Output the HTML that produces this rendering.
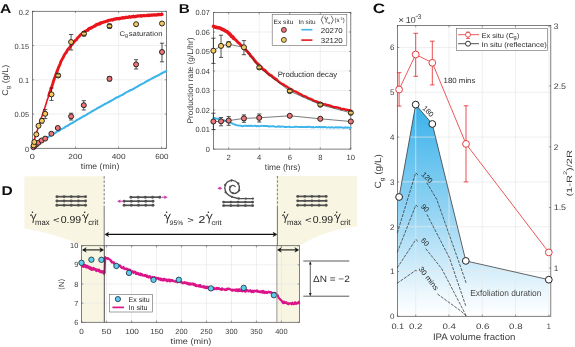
<!DOCTYPE html>
<html><head><meta charset="utf-8"><style>
html,body{margin:0;padding:0;background:#fff;width:575px;height:347px;overflow:hidden;}
svg{display:block;font-family:"Liberation Sans", sans-serif;will-change:transform;text-rendering:geometricPrecision;}
</style></head><body>
<svg width="575" height="347" viewBox="0 0 575 347">
<rect width="575" height="347" fill="#fff"/>
<line x1="75.51" y1="11.30" x2="75.51" y2="148.30" stroke="#e8e8e8" stroke-width="0.7" />
<line x1="118.57" y1="11.30" x2="118.57" y2="148.30" stroke="#e8e8e8" stroke-width="0.7" />
<line x1="161.63" y1="11.30" x2="161.63" y2="148.30" stroke="#e8e8e8" stroke-width="0.7" />
<line x1="32.45" y1="114.05" x2="166.40" y2="114.05" stroke="#e8e8e8" stroke-width="0.7" />
<line x1="32.45" y1="79.80" x2="166.40" y2="79.80" stroke="#e8e8e8" stroke-width="0.7" />
<line x1="32.45" y1="45.55" x2="166.40" y2="45.55" stroke="#e8e8e8" stroke-width="0.7" />
<rect x="32.45" y="11.30" width="133.95" height="137.00" fill="none" stroke="#555555" stroke-width="0.75" />
<line x1="32.45" y1="148.30" x2="32.45" y2="146.60" stroke="#555555" stroke-width="0.6" />
<line x1="32.45" y1="11.30" x2="32.45" y2="13.00" stroke="#555555" stroke-width="0.6" />
<line x1="75.51" y1="148.30" x2="75.51" y2="146.60" stroke="#555555" stroke-width="0.6" />
<line x1="75.51" y1="11.30" x2="75.51" y2="13.00" stroke="#555555" stroke-width="0.6" />
<line x1="118.57" y1="148.30" x2="118.57" y2="146.60" stroke="#555555" stroke-width="0.6" />
<line x1="118.57" y1="11.30" x2="118.57" y2="13.00" stroke="#555555" stroke-width="0.6" />
<line x1="161.63" y1="148.30" x2="161.63" y2="146.60" stroke="#555555" stroke-width="0.6" />
<line x1="161.63" y1="11.30" x2="161.63" y2="13.00" stroke="#555555" stroke-width="0.6" />
<line x1="32.45" y1="148.30" x2="34.15" y2="148.30" stroke="#555555" stroke-width="0.6" />
<line x1="166.40" y1="148.30" x2="164.70" y2="148.30" stroke="#555555" stroke-width="0.6" />
<line x1="32.45" y1="114.05" x2="34.15" y2="114.05" stroke="#555555" stroke-width="0.6" />
<line x1="166.40" y1="114.05" x2="164.70" y2="114.05" stroke="#555555" stroke-width="0.6" />
<line x1="32.45" y1="79.80" x2="34.15" y2="79.80" stroke="#555555" stroke-width="0.6" />
<line x1="166.40" y1="79.80" x2="164.70" y2="79.80" stroke="#555555" stroke-width="0.6" />
<line x1="32.45" y1="45.55" x2="34.15" y2="45.55" stroke="#555555" stroke-width="0.6" />
<line x1="166.40" y1="45.55" x2="164.70" y2="45.55" stroke="#555555" stroke-width="0.6" />
<line x1="32.45" y1="11.30" x2="34.15" y2="11.30" stroke="#555555" stroke-width="0.6" />
<line x1="166.40" y1="11.30" x2="164.70" y2="11.30" stroke="#555555" stroke-width="0.6" />
<polyline points="32.50,148.09 34.00,147.30 35.51,145.98 37.01,144.98 38.51,143.97 40.02,142.61 41.52,141.49 43.02,140.18 44.53,139.19 46.03,138.21 47.53,137.29 49.04,136.49 50.54,135.42 52.04,134.41 53.55,133.66 55.05,133.12 56.55,131.91 58.06,131.16 59.56,130.52 61.06,129.20 62.57,128.61 64.07,127.91 65.57,126.67 67.08,125.96 68.58,125.26 70.08,124.00 71.59,123.32 73.09,122.56 74.59,121.64 76.10,120.67 77.60,119.66 79.10,118.93 80.61,117.99 82.11,117.17 83.61,116.24 85.12,115.60 86.62,114.69 88.12,113.59 89.63,112.84 91.13,111.82 92.63,111.03 94.14,110.11 95.64,109.38 97.14,108.36 98.65,107.53 100.15,106.81 101.66,105.84 103.16,105.27 104.66,104.09 106.17,103.56 107.67,102.58 109.17,101.77 110.68,101.06 112.18,100.18 113.68,99.31 115.19,98.29 116.69,97.52 118.19,97.01 119.70,96.11 121.20,95.38 122.70,94.69 124.21,93.74 125.71,92.61 127.21,91.92 128.72,91.24 130.22,90.25 131.72,89.80 133.23,88.97 134.73,88.11 136.23,87.10 137.74,86.47 139.24,85.30 140.74,84.58 142.25,83.84 143.75,83.16 145.25,82.22 146.76,81.23 148.26,80.51 149.76,79.69 151.27,78.86 152.77,77.98 154.27,77.28 155.78,76.49 157.28,75.83 158.78,75.03 160.29,74.07 161.79,73.23 163.29,72.57 164.80,71.81 166.30,70.89" fill="none" stroke="#3cb4ea" stroke-width="2.1" stroke-linejoin="round" stroke-linecap="round" />
<polyline points="32.50,147.71 33.31,144.13 34.13,140.19 34.94,137.85 35.76,134.67 36.57,132.21 37.39,129.93 38.20,127.45 39.02,124.66 39.83,122.63 40.64,119.78 41.46,117.49 42.27,115.33 43.09,112.60 43.90,110.28 44.72,107.93 45.53,105.57 46.35,103.10 47.16,100.15 47.97,98.01 48.79,95.61 49.60,92.86 50.42,90.70 51.23,88.22 52.05,85.86" fill="none" stroke="#e8161c" stroke-width="1.6" stroke-linejoin="round" stroke-linecap="round" />
<polyline points="48.79,95.61 49.60,92.86 50.42,90.70 51.23,88.22 52.05,85.86 52.86,83.46 53.68,80.46 54.49,78.19 55.31,76.26 56.12,73.69 56.93,71.57 57.75,69.66 58.56,67.27 59.38,65.65 60.19,63.73 61.01,61.28 61.82,59.86 62.64,58.41 63.45,57.02 64.26,55.10 65.08,53.66 65.89,52.85 66.71,51.62 67.52,49.93 68.34,48.95 69.15,48.04 69.97,47.06 70.78,45.54 71.59,44.90 72.41,44.06 73.22,42.98 74.04,41.84 74.85,40.89 75.67,40.20 76.48,39.70 77.30,38.27 78.11,37.35 78.92,36.72 79.74,35.67 80.55,34.92 81.37,34.08 82.18,33.74 83.00,33.19 83.81,32.37 84.63,31.55 85.44,31.11 86.25,30.74 87.07,30.45 87.88,29.98 88.70,28.96" fill="none" stroke="#e8161c" stroke-width="2.9" stroke-linejoin="round" stroke-linecap="round" />
<polyline points="87.88,29.98 88.70,28.96 89.51,28.31 90.33,28.41 91.14,28.02 91.96,27.24 92.77,27.02 93.58,26.66 94.40,26.07 95.21,25.85 96.03,24.87 96.84,24.67 97.66,24.32 98.47,23.87 99.29,24.09 100.10,23.16 100.92,23.29 101.73,22.57 102.54,22.48 103.36,22.23 104.17,21.79 104.99,21.75 105.80,21.50 106.62,21.10 107.43,21.15 108.25,20.52 109.06,20.32 109.87,20.23 110.69,20.05 111.50,19.73 112.32,20.05 113.13,19.81 113.95,19.14 114.76,19.16 115.58,18.90 116.39,18.90 117.20,18.63 118.02,18.64 118.83,18.80 119.65,18.28 120.46,18.33 121.28,18.17 122.09,18.15 122.91,17.54 123.72,17.89 124.53,17.91 125.35,17.56 126.16,17.22 126.98,17.38 127.79,17.31 128.61,17.17 129.42,16.72 130.24,17.21 131.05,17.11 131.86,16.65 132.68,16.69 133.49,16.23 134.31,16.81 135.12,16.62 135.94,16.42 136.75,16.44 137.57,15.97 138.38,15.99 139.19,15.88 140.01,16.06 140.82,15.64 141.64,16.14 142.45,15.77 143.27,15.70 144.08,15.39 144.90,15.74 145.71,15.77 146.53,15.57 147.34,15.24 148.15,15.56 148.97,15.05 149.78,15.46 150.60,15.23 151.41,14.97 152.23,15.07 153.04,15.09 153.86,14.77 154.67,15.13 155.48,14.77 156.30,15.05 157.11,14.95 157.93,14.38 158.74,14.71 159.56,14.42 160.37,14.68 161.19,14.48 162.00,14.37" fill="none" stroke="#e8161c" stroke-width="3.2" stroke-linejoin="round" stroke-linecap="round" />
<line x1="71.10" y1="113.20" x2="71.10" y2="120.00" stroke="#222" stroke-width="0.75" />
<line x1="69.00" y1="113.20" x2="73.20" y2="113.20" stroke="#222" stroke-width="0.75" />
<line x1="69.00" y1="120.00" x2="73.20" y2="120.00" stroke="#222" stroke-width="0.75" />
<line x1="83.80" y1="100.70" x2="83.80" y2="110.00" stroke="#222" stroke-width="0.75" />
<line x1="81.70" y1="100.70" x2="85.90" y2="100.70" stroke="#222" stroke-width="0.75" />
<line x1="81.70" y1="110.00" x2="85.90" y2="110.00" stroke="#222" stroke-width="0.75" />
<line x1="136.10" y1="59.70" x2="136.10" y2="69.00" stroke="#222" stroke-width="0.75" />
<line x1="134.00" y1="59.70" x2="138.20" y2="59.70" stroke="#222" stroke-width="0.75" />
<line x1="134.00" y1="69.00" x2="138.20" y2="69.00" stroke="#222" stroke-width="0.75" />
<line x1="162.00" y1="43.20" x2="162.00" y2="61.80" stroke="#222" stroke-width="0.75" />
<line x1="159.90" y1="43.20" x2="164.10" y2="43.20" stroke="#222" stroke-width="0.75" />
<line x1="159.90" y1="61.80" x2="164.10" y2="61.80" stroke="#222" stroke-width="0.75" />
<line x1="109.50" y1="76.50" x2="109.50" y2="81.00" stroke="#222" stroke-width="0.75" />
<line x1="107.40" y1="76.50" x2="111.60" y2="76.50" stroke="#222" stroke-width="0.75" />
<line x1="107.40" y1="81.00" x2="111.60" y2="81.00" stroke="#222" stroke-width="0.75" />
<circle cx="33.40" cy="147.20" r="2.5" fill="#ef7479" stroke="#1f1f1a" stroke-width="0.95"/>
<circle cx="34.80" cy="145.60" r="2.5" fill="#ef7479" stroke="#1f1f1a" stroke-width="0.95"/>
<circle cx="36.60" cy="144.20" r="2.5" fill="#ef7479" stroke="#1f1f1a" stroke-width="0.95"/>
<circle cx="38.40" cy="142.70" r="2.5" fill="#ef7479" stroke="#1f1f1a" stroke-width="0.95"/>
<circle cx="41.60" cy="140.50" r="2.5" fill="#ef7479" stroke="#1f1f1a" stroke-width="0.95"/>
<circle cx="45.20" cy="138.60" r="2.5" fill="#ef7479" stroke="#1f1f1a" stroke-width="0.95"/>
<circle cx="51.40" cy="133.75" r="2.5" fill="#ef7479" stroke="#1f1f1a" stroke-width="0.95"/>
<circle cx="57.80" cy="128.00" r="2.5" fill="#ef7479" stroke="#1f1f1a" stroke-width="0.95"/>
<circle cx="71.10" cy="116.40" r="2.5" fill="#ef7479" stroke="#1f1f1a" stroke-width="0.95"/>
<circle cx="83.80" cy="105.20" r="2.5" fill="#ef7479" stroke="#1f1f1a" stroke-width="0.95"/>
<circle cx="109.50" cy="78.80" r="2.5" fill="#ef7479" stroke="#1f1f1a" stroke-width="0.95"/>
<circle cx="136.10" cy="64.40" r="2.5" fill="#ef7479" stroke="#1f1f1a" stroke-width="0.95"/>
<circle cx="162.00" cy="52.00" r="2.5" fill="#ef7479" stroke="#1f1f1a" stroke-width="0.95"/>
<line x1="51.50" y1="88.00" x2="51.50" y2="100.40" stroke="#222" stroke-width="0.75" />
<line x1="49.40" y1="88.00" x2="53.60" y2="88.00" stroke="#222" stroke-width="0.75" />
<line x1="49.40" y1="100.40" x2="53.60" y2="100.40" stroke="#222" stroke-width="0.75" />
<line x1="71.10" y1="34.50" x2="71.10" y2="50.00" stroke="#222" stroke-width="0.75" />
<line x1="69.00" y1="34.50" x2="73.20" y2="34.50" stroke="#222" stroke-width="0.75" />
<line x1="69.00" y1="50.00" x2="73.20" y2="50.00" stroke="#222" stroke-width="0.75" />
<line x1="45.20" y1="109.60" x2="45.20" y2="118.60" stroke="#222" stroke-width="0.75" />
<line x1="43.10" y1="109.60" x2="47.30" y2="109.60" stroke="#222" stroke-width="0.75" />
<line x1="43.10" y1="118.60" x2="47.30" y2="118.60" stroke="#222" stroke-width="0.75" />
<line x1="41.90" y1="118.50" x2="41.90" y2="123.00" stroke="#222" stroke-width="0.75" />
<line x1="39.80" y1="118.50" x2="44.00" y2="118.50" stroke="#222" stroke-width="0.75" />
<line x1="39.80" y1="123.00" x2="44.00" y2="123.00" stroke="#222" stroke-width="0.75" />
<line x1="84.00" y1="31.50" x2="84.00" y2="36.00" stroke="#222" stroke-width="0.75" />
<line x1="81.90" y1="31.50" x2="86.10" y2="31.50" stroke="#222" stroke-width="0.75" />
<line x1="81.90" y1="36.00" x2="86.10" y2="36.00" stroke="#222" stroke-width="0.75" />
<line x1="109.50" y1="24.00" x2="109.50" y2="28.20" stroke="#222" stroke-width="0.75" />
<line x1="107.40" y1="24.00" x2="111.60" y2="24.00" stroke="#222" stroke-width="0.75" />
<line x1="107.40" y1="28.20" x2="111.60" y2="28.20" stroke="#222" stroke-width="0.75" />
<circle cx="33.70" cy="145.40" r="2.5" fill="#f5c862" stroke="#1f1f1a" stroke-width="0.95"/>
<circle cx="34.30" cy="142.00" r="2.5" fill="#f5c862" stroke="#1f1f1a" stroke-width="0.95"/>
<circle cx="36.30" cy="134.40" r="2.5" fill="#f5c862" stroke="#1f1f1a" stroke-width="0.95"/>
<circle cx="38.50" cy="125.80" r="2.5" fill="#f5c862" stroke="#1f1f1a" stroke-width="0.95"/>
<circle cx="41.90" cy="120.80" r="2.5" fill="#f5c862" stroke="#1f1f1a" stroke-width="0.95"/>
<circle cx="45.20" cy="113.80" r="2.5" fill="#f5c862" stroke="#1f1f1a" stroke-width="0.95"/>
<circle cx="51.50" cy="94.40" r="2.5" fill="#f5c862" stroke="#1f1f1a" stroke-width="0.95"/>
<circle cx="58.20" cy="75.50" r="2.5" fill="#f5c862" stroke="#1f1f1a" stroke-width="0.95"/>
<circle cx="71.10" cy="42.00" r="2.5" fill="#f5c862" stroke="#1f1f1a" stroke-width="0.95"/>
<circle cx="84.00" cy="33.70" r="2.5" fill="#f5c862" stroke="#1f1f1a" stroke-width="0.95"/>
<circle cx="109.50" cy="26.10" r="2.5" fill="#f5c862" stroke="#1f1f1a" stroke-width="0.95"/>
<circle cx="136.10" cy="24.20" r="2.5" fill="#f5c862" stroke="#1f1f1a" stroke-width="0.95"/>
<circle cx="162.00" cy="23.50" r="2.5" fill="#f5c862" stroke="#1f1f1a" stroke-width="0.95"/>
<line x1="56.30" y1="74.00" x2="60.10" y2="74.00" stroke="#2b2b22" stroke-width="0.8" />
<line x1="56.30" y1="77.00" x2="60.10" y2="77.00" stroke="#2b2b22" stroke-width="0.8" />
<line x1="82.10" y1="32.20" x2="85.90" y2="32.20" stroke="#2b2b22" stroke-width="0.8" />
<line x1="82.10" y1="35.20" x2="85.90" y2="35.20" stroke="#2b2b22" stroke-width="0.8" />
<line x1="107.60" y1="24.60" x2="111.40" y2="24.60" stroke="#2b2b22" stroke-width="0.8" />
<line x1="107.60" y1="27.60" x2="111.40" y2="27.60" stroke="#2b2b22" stroke-width="0.8" />
<text x="29.76" y="159.20" font-size="7.4" text-anchor="start" fill="#3c3c3c" font-weight="normal" textLength="5.09" lengthAdjust="spacingAndGlyphs" >0</text>
<text x="68.36" y="159.20" font-size="7.4" text-anchor="start" fill="#3c3c3c" font-weight="normal" textLength="13.99" lengthAdjust="spacingAndGlyphs" >200</text>
<text x="111.76" y="159.20" font-size="7.4" text-anchor="start" fill="#3c3c3c" font-weight="normal" textLength="13.79" lengthAdjust="spacingAndGlyphs" >400</text>
<text x="155.16" y="159.20" font-size="7.4" text-anchor="start" fill="#3c3c3c" font-weight="normal" textLength="13.39" lengthAdjust="spacingAndGlyphs" >600</text>
<text x="29.00" y="151.60" font-size="7.4" text-anchor="end" fill="#3c3c3c" font-weight="normal" >0</text>
<text x="29.00" y="117.35" font-size="7.4" text-anchor="end" fill="#3c3c3c" font-weight="normal" >0.05</text>
<text x="29.00" y="83.10" font-size="7.4" text-anchor="end" fill="#3c3c3c" font-weight="normal" >0.1</text>
<text x="29.00" y="48.85" font-size="7.4" text-anchor="end" fill="#3c3c3c" font-weight="normal" >0.15</text>
<text x="29.00" y="14.60" font-size="7.4" text-anchor="end" fill="#3c3c3c" font-weight="normal" >0.2</text>
<text x="80.80" y="169.00" font-size="8.3" text-anchor="start" fill="#3c3c3c" font-weight="normal" textLength="38.60" lengthAdjust="spacingAndGlyphs" >time (min)</text>
<text transform="translate(7.6,80.2) rotate(-90)" font-size="8.4" text-anchor="middle" fill="#3c3c3c" textLength="31" lengthAdjust="spacingAndGlyphs">C<tspan font-size="5.8" dy="2.2">g</tspan><tspan dy="-2.2"> (g/L)</tspan></text>
<text x="119.40" y="36.00" font-size="6.7" text-anchor="start" fill="#2a2a2a" font-weight="normal" textLength="5.60" lengthAdjust="spacingAndGlyphs" >C</text>
<text x="124.90" y="37.30" font-size="5.3" text-anchor="start" fill="#2a2a2a" font-weight="normal" >g</text>
<text x="128.79" y="36.00" font-size="6.9" text-anchor="start" fill="#2a2a2a" font-weight="normal" textLength="33.73" lengthAdjust="spacingAndGlyphs" >saturation</text>
<text x="0.13" y="13.00" font-size="12.8" text-anchor="start" fill="#111" font-weight="bold" textLength="11.34" lengthAdjust="spacingAndGlyphs" >A</text>
<line x1="228.67" y1="12.50" x2="228.67" y2="149.10" stroke="#e8e8e8" stroke-width="0.7" />
<line x1="259.21" y1="12.50" x2="259.21" y2="149.10" stroke="#e8e8e8" stroke-width="0.7" />
<line x1="289.75" y1="12.50" x2="289.75" y2="149.10" stroke="#e8e8e8" stroke-width="0.7" />
<line x1="320.29" y1="12.50" x2="320.29" y2="149.10" stroke="#e8e8e8" stroke-width="0.7" />
<line x1="213.40" y1="129.58" x2="350.80" y2="129.58" stroke="#e8e8e8" stroke-width="0.7" />
<line x1="213.40" y1="110.06" x2="350.80" y2="110.06" stroke="#e8e8e8" stroke-width="0.7" />
<line x1="213.40" y1="90.54" x2="350.80" y2="90.54" stroke="#e8e8e8" stroke-width="0.7" />
<line x1="213.40" y1="71.02" x2="350.80" y2="71.02" stroke="#e8e8e8" stroke-width="0.7" />
<line x1="213.40" y1="51.50" x2="350.80" y2="51.50" stroke="#e8e8e8" stroke-width="0.7" />
<line x1="213.40" y1="31.98" x2="350.80" y2="31.98" stroke="#e8e8e8" stroke-width="0.7" />
<rect x="213.40" y="12.50" width="137.40" height="136.60" fill="none" stroke="#555555" stroke-width="0.75" />
<line x1="228.67" y1="149.10" x2="228.67" y2="147.40" stroke="#555555" stroke-width="0.6" />
<line x1="228.67" y1="12.50" x2="228.67" y2="14.20" stroke="#555555" stroke-width="0.6" />
<line x1="259.21" y1="149.10" x2="259.21" y2="147.40" stroke="#555555" stroke-width="0.6" />
<line x1="259.21" y1="12.50" x2="259.21" y2="14.20" stroke="#555555" stroke-width="0.6" />
<line x1="289.75" y1="149.10" x2="289.75" y2="147.40" stroke="#555555" stroke-width="0.6" />
<line x1="289.75" y1="12.50" x2="289.75" y2="14.20" stroke="#555555" stroke-width="0.6" />
<line x1="320.29" y1="149.10" x2="320.29" y2="147.40" stroke="#555555" stroke-width="0.6" />
<line x1="320.29" y1="12.50" x2="320.29" y2="14.20" stroke="#555555" stroke-width="0.6" />
<line x1="350.83" y1="149.10" x2="350.83" y2="147.40" stroke="#555555" stroke-width="0.6" />
<line x1="350.83" y1="12.50" x2="350.83" y2="14.20" stroke="#555555" stroke-width="0.6" />
<line x1="213.40" y1="149.10" x2="215.10" y2="149.10" stroke="#555555" stroke-width="0.6" />
<line x1="350.80" y1="149.10" x2="349.10" y2="149.10" stroke="#555555" stroke-width="0.6" />
<line x1="213.40" y1="129.58" x2="215.10" y2="129.58" stroke="#555555" stroke-width="0.6" />
<line x1="350.80" y1="129.58" x2="349.10" y2="129.58" stroke="#555555" stroke-width="0.6" />
<line x1="213.40" y1="110.06" x2="215.10" y2="110.06" stroke="#555555" stroke-width="0.6" />
<line x1="350.80" y1="110.06" x2="349.10" y2="110.06" stroke="#555555" stroke-width="0.6" />
<line x1="213.40" y1="90.54" x2="215.10" y2="90.54" stroke="#555555" stroke-width="0.6" />
<line x1="350.80" y1="90.54" x2="349.10" y2="90.54" stroke="#555555" stroke-width="0.6" />
<line x1="213.40" y1="71.02" x2="215.10" y2="71.02" stroke="#555555" stroke-width="0.6" />
<line x1="350.80" y1="71.02" x2="349.10" y2="71.02" stroke="#555555" stroke-width="0.6" />
<line x1="213.40" y1="51.50" x2="215.10" y2="51.50" stroke="#555555" stroke-width="0.6" />
<line x1="350.80" y1="51.50" x2="349.10" y2="51.50" stroke="#555555" stroke-width="0.6" />
<line x1="213.40" y1="31.98" x2="215.10" y2="31.98" stroke="#555555" stroke-width="0.6" />
<line x1="350.80" y1="31.98" x2="349.10" y2="31.98" stroke="#555555" stroke-width="0.6" />
<line x1="213.40" y1="12.46" x2="215.10" y2="12.46" stroke="#555555" stroke-width="0.6" />
<line x1="350.80" y1="12.46" x2="349.10" y2="12.46" stroke="#555555" stroke-width="0.6" />
<polyline points="213.40,118.28 214.66,117.96 215.92,118.59 217.18,118.70 218.44,118.77 219.70,119.55 220.96,119.69 222.22,120.19 223.48,120.26 224.74,120.41 226.01,121.24 227.27,121.01 228.53,121.43 229.79,122.50 231.05,122.83 232.31,123.41 233.57,124.36 234.83,124.41 236.09,125.16 237.35,125.35 238.61,125.49 239.87,125.66 241.13,125.80 242.39,126.29 243.65,125.87 244.91,125.68 246.17,125.76 247.43,126.16 248.70,125.62 249.96,126.03 251.22,125.56 252.48,126.14 253.74,125.88 255.00,125.58 256.26,126.24 257.52,125.88 258.78,126.19 260.04,126.08 261.30,125.82 262.56,125.88 263.82,125.95 265.08,126.00 266.34,125.97 267.60,126.00 268.86,126.68 270.12,126.12 271.39,126.43 272.65,126.19 273.91,126.28 275.17,126.69 276.43,126.84 277.69,126.53 278.95,126.23 280.21,126.95 281.47,126.31 282.73,126.58 283.99,126.71 285.25,126.98 286.51,126.96 287.77,126.83 289.03,126.71 290.29,127.04 291.55,127.08 292.81,127.10 294.08,127.01 295.34,126.59 296.60,126.75 297.86,126.89 299.12,126.93 300.38,127.17 301.64,126.77 302.90,127.09 304.16,126.90 305.42,127.20 306.68,126.81 307.94,127.02 309.20,126.78 310.46,126.87 311.72,127.39 312.98,126.98 314.24,127.40 315.50,127.16 316.77,126.83 318.03,127.38 319.29,126.88 320.55,127.44 321.81,126.88 323.07,127.36 324.33,127.02 325.59,127.16 326.85,127.61 328.11,127.30 329.37,127.43 330.63,127.51 331.89,127.08 333.15,127.61 334.41,127.68 335.67,127.16 336.93,127.45 338.19,127.28 339.46,127.62 340.72,127.14 341.98,127.49 343.24,127.71 344.50,127.68 345.76,127.26 347.02,127.78 348.28,127.38 349.54,127.80 350.80,127.60" fill="none" stroke="#3cb4ea" stroke-width="1.9" stroke-linejoin="round" stroke-linecap="round" />
<polyline points="213.50,26.36 214.56,26.89 215.63,27.13 216.69,27.31 217.76,27.82 218.82,27.69 219.89,28.09 220.95,28.48 222.01,29.24 223.08,29.66 224.14,30.16 225.21,30.78 226.27,31.27 227.34,31.84 228.40,33.03 229.47,33.85 230.53,34.98 231.59,36.37 232.66,36.91 233.72,38.29" fill="none" stroke="#e8161c" stroke-width="3.6" stroke-linejoin="round" stroke-linecap="round" />
<polyline points="229.47,33.85 230.53,34.98 231.59,36.37 232.66,36.91 233.72,38.29 234.79,39.32 235.85,40.05 236.92,41.16 237.98,42.49 239.04,43.04 240.11,44.31 241.17,45.41 242.24,46.11 243.30,47.60 244.37,48.42 245.43,49.44 246.49,50.74 247.56,51.74 248.62,53.18 249.69,54.15 250.75,55.91 251.82,56.95 252.88,58.05 253.94,59.48 255.01,61.08 256.07,62.26 257.14,63.23 258.20,64.29 259.27,65.38 260.33,66.83 261.40,67.22 262.46,68.74 263.52,69.68 264.59,70.17 265.65,71.17 266.72,72.22 267.78,73.26 268.85,74.22 269.91,75.10 270.97,75.43 272.04,76.19 273.10,77.21 274.17,78.05 275.23,78.91 276.30,79.31" fill="none" stroke="#e8161c" stroke-width="2.9" stroke-linejoin="round" stroke-linecap="round" />
<polyline points="275.23,78.91 276.30,79.31 277.36,80.45 278.42,81.40 279.49,82.15 280.55,82.90 281.62,83.61 282.68,84.35 283.75,84.41 284.81,85.70 285.88,85.93 286.94,86.63 288.00,87.38 289.07,88.37 290.13,88.75 291.20,89.19 292.26,89.82 293.33,90.79 294.39,91.32 295.45,91.43 296.52,92.08 297.58,92.73 298.65,93.17 299.71,93.96 300.78,94.26 301.84,95.04 302.90,95.81 303.97,96.26 305.03,96.24 306.10,96.81 307.16,97.44 308.23,98.09 309.29,98.39 310.36,98.77 311.42,99.30 312.48,99.66 313.55,100.57 314.61,100.90 315.68,101.13 316.74,101.75 317.81,102.02 318.87,102.42 319.93,102.68 321.00,103.13 322.06,103.84 323.13,104.04 324.19,104.41 325.26,104.25 326.32,104.84 327.38,105.06 328.45,105.18 329.51,105.69 330.58,105.76 331.64,106.16 332.71,106.83 333.77,107.03 334.83,107.30 335.90,107.12 336.96,107.44 338.03,107.59 339.09,107.89 340.16,108.13 341.22,108.97 342.29,109.15 343.35,108.89 344.41,109.15 345.48,109.85 346.54,109.79 347.61,109.85 348.67,110.11 349.74,110.16 350.80,110.56" fill="none" stroke="#e8161c" stroke-width="2.4" stroke-linejoin="round" stroke-linecap="round" />
<polyline points="213.40,50.70 221.03,45.90 228.67,44.30 243.94,47.30 259.21,67.40 289.75,91.10 320.29,104.70 350.83,112.80" fill="none" stroke="#333" stroke-width="0.65" stroke-linejoin="round" stroke-linecap="round" />
<polyline points="213.40,121.50 221.03,121.30 228.67,120.60 243.94,118.40 259.21,117.80 289.75,115.80 320.29,118.80 350.83,121.50" fill="none" stroke="#333" stroke-width="0.65" stroke-linejoin="round" stroke-linecap="round" />
<line x1="213.40" y1="38.20" x2="213.40" y2="63.40" stroke="#222" stroke-width="0.75" />
<line x1="211.30" y1="38.20" x2="215.50" y2="38.20" stroke="#222" stroke-width="0.75" />
<line x1="211.30" y1="63.40" x2="215.50" y2="63.40" stroke="#222" stroke-width="0.75" />
<line x1="221.03" y1="35.20" x2="221.03" y2="57.40" stroke="#222" stroke-width="0.75" />
<line x1="218.94" y1="35.20" x2="223.13" y2="35.20" stroke="#222" stroke-width="0.75" />
<line x1="218.94" y1="57.40" x2="223.13" y2="57.40" stroke="#222" stroke-width="0.75" />
<line x1="228.67" y1="41.60" x2="228.67" y2="47.00" stroke="#222" stroke-width="0.75" />
<line x1="226.57" y1="41.60" x2="230.77" y2="41.60" stroke="#222" stroke-width="0.75" />
<line x1="226.57" y1="47.00" x2="230.77" y2="47.00" stroke="#222" stroke-width="0.75" />
<line x1="243.94" y1="40.60" x2="243.94" y2="54.70" stroke="#222" stroke-width="0.75" />
<line x1="241.84" y1="40.60" x2="246.04" y2="40.60" stroke="#222" stroke-width="0.75" />
<line x1="241.84" y1="54.70" x2="246.04" y2="54.70" stroke="#222" stroke-width="0.75" />
<line x1="213.40" y1="113.20" x2="213.40" y2="129.60" stroke="#222" stroke-width="0.75" />
<line x1="211.30" y1="113.20" x2="215.50" y2="113.20" stroke="#222" stroke-width="0.75" />
<line x1="211.30" y1="129.60" x2="215.50" y2="129.60" stroke="#222" stroke-width="0.75" />
<line x1="221.03" y1="117.50" x2="221.03" y2="125.80" stroke="#222" stroke-width="0.75" />
<line x1="218.94" y1="117.50" x2="223.13" y2="117.50" stroke="#222" stroke-width="0.75" />
<line x1="218.94" y1="125.80" x2="223.13" y2="125.80" stroke="#222" stroke-width="0.75" />
<line x1="228.67" y1="116.60" x2="228.67" y2="125.30" stroke="#222" stroke-width="0.75" />
<line x1="226.57" y1="116.60" x2="230.77" y2="116.60" stroke="#222" stroke-width="0.75" />
<line x1="226.57" y1="125.30" x2="230.77" y2="125.30" stroke="#222" stroke-width="0.75" />
<line x1="243.94" y1="114.90" x2="243.94" y2="122.30" stroke="#222" stroke-width="0.75" />
<line x1="241.84" y1="114.90" x2="246.04" y2="114.90" stroke="#222" stroke-width="0.75" />
<line x1="241.84" y1="122.30" x2="246.04" y2="122.30" stroke="#222" stroke-width="0.75" />
<line x1="259.21" y1="114.00" x2="259.21" y2="122.00" stroke="#222" stroke-width="0.75" />
<line x1="257.11" y1="114.00" x2="261.31" y2="114.00" stroke="#222" stroke-width="0.75" />
<line x1="257.11" y1="122.00" x2="261.31" y2="122.00" stroke="#222" stroke-width="0.75" />
<circle cx="213.40" cy="121.50" r="2.55" fill="#ef7479" stroke="#1f1f1a" stroke-width="0.95"/>
<circle cx="221.03" cy="121.30" r="2.55" fill="#ef7479" stroke="#1f1f1a" stroke-width="0.95"/>
<circle cx="228.67" cy="120.60" r="2.55" fill="#ef7479" stroke="#1f1f1a" stroke-width="0.95"/>
<circle cx="243.94" cy="118.40" r="2.55" fill="#ef7479" stroke="#1f1f1a" stroke-width="0.95"/>
<circle cx="259.21" cy="117.80" r="2.55" fill="#ef7479" stroke="#1f1f1a" stroke-width="0.95"/>
<circle cx="289.75" cy="115.80" r="2.55" fill="#ef7479" stroke="#1f1f1a" stroke-width="0.95"/>
<circle cx="320.29" cy="118.80" r="2.55" fill="#ef7479" stroke="#1f1f1a" stroke-width="0.95"/>
<circle cx="350.83" cy="121.50" r="2.55" fill="#ef7479" stroke="#1f1f1a" stroke-width="0.95"/>
<circle cx="213.40" cy="50.70" r="2.55" fill="#f5c862" stroke="#1f1f1a" stroke-width="0.95"/>
<circle cx="221.03" cy="45.90" r="2.55" fill="#f5c862" stroke="#1f1f1a" stroke-width="0.95"/>
<circle cx="228.67" cy="44.30" r="2.55" fill="#f5c862" stroke="#1f1f1a" stroke-width="0.95"/>
<circle cx="243.94" cy="47.30" r="2.55" fill="#f5c862" stroke="#1f1f1a" stroke-width="0.95"/>
<circle cx="259.21" cy="67.40" r="2.55" fill="#f5c862" stroke="#1f1f1a" stroke-width="0.95"/>
<circle cx="289.75" cy="91.10" r="2.55" fill="#f5c862" stroke="#1f1f1a" stroke-width="0.95"/>
<circle cx="320.29" cy="104.70" r="2.55" fill="#f5c862" stroke="#1f1f1a" stroke-width="0.95"/>
<circle cx="350.83" cy="112.80" r="2.55" fill="#f5c862" stroke="#1f1f1a" stroke-width="0.95"/>
<line x1="257.31" y1="65.90" x2="261.11" y2="65.90" stroke="#2b2b22" stroke-width="0.8" />
<line x1="257.31" y1="68.90" x2="261.11" y2="68.90" stroke="#2b2b22" stroke-width="0.8" />
<line x1="287.85" y1="89.60" x2="291.65" y2="89.60" stroke="#2b2b22" stroke-width="0.8" />
<line x1="287.85" y1="92.60" x2="291.65" y2="92.60" stroke="#2b2b22" stroke-width="0.8" />
<line x1="318.39" y1="103.20" x2="322.19" y2="103.20" stroke="#2b2b22" stroke-width="0.8" />
<line x1="318.39" y1="106.20" x2="322.19" y2="106.20" stroke="#2b2b22" stroke-width="0.8" />
<line x1="348.93" y1="111.30" x2="352.73" y2="111.30" stroke="#2b2b22" stroke-width="0.8" />
<line x1="348.93" y1="114.30" x2="352.73" y2="114.30" stroke="#2b2b22" stroke-width="0.8" />
<text x="228.67" y="160.10" font-size="7.6" text-anchor="middle" fill="#3c3c3c" font-weight="normal" >2</text>
<text x="259.21" y="160.10" font-size="7.6" text-anchor="middle" fill="#3c3c3c" font-weight="normal" >4</text>
<text x="289.75" y="160.10" font-size="7.6" text-anchor="middle" fill="#3c3c3c" font-weight="normal" >6</text>
<text x="320.29" y="160.10" font-size="7.6" text-anchor="middle" fill="#3c3c3c" font-weight="normal" >8</text>
<text x="350.83" y="160.10" font-size="7.6" text-anchor="middle" fill="#3c3c3c" font-weight="normal" >10</text>
<text x="209.80" y="151.70" font-size="7.4" text-anchor="end" fill="#3c3c3c" font-weight="normal" >0</text>
<text x="209.80" y="132.18" font-size="7.4" text-anchor="end" fill="#3c3c3c" font-weight="normal" >0.01</text>
<text x="209.80" y="112.66" font-size="7.4" text-anchor="end" fill="#3c3c3c" font-weight="normal" >0.02</text>
<text x="209.80" y="93.14" font-size="7.4" text-anchor="end" fill="#3c3c3c" font-weight="normal" >0.03</text>
<text x="209.80" y="73.62" font-size="7.4" text-anchor="end" fill="#3c3c3c" font-weight="normal" >0.04</text>
<text x="209.80" y="54.10" font-size="7.4" text-anchor="end" fill="#3c3c3c" font-weight="normal" >0.05</text>
<text x="209.80" y="34.58" font-size="7.4" text-anchor="end" fill="#3c3c3c" font-weight="normal" >0.06</text>
<text x="209.80" y="15.06" font-size="7.4" text-anchor="end" fill="#3c3c3c" font-weight="normal" >0.07</text>
<text x="282.50" y="170.00" font-size="8.4" text-anchor="middle" fill="#3c3c3c" font-weight="normal" >time (hrs)</text>
<text transform="translate(189.6,80.5) rotate(-90)" font-size="8.3" text-anchor="middle" fill="#3c3c3c" dominant-baseline="central" textLength="86" lengthAdjust="spacingAndGlyphs">Production rate (g/L/hr)</text>
<text x="277.73" y="77.30" font-size="7.8" text-anchor="start" fill="#2a2a2a" font-weight="normal" textLength="59.34" lengthAdjust="spacingAndGlyphs" >Production decay</text>
<text x="178.73" y="13.00" font-size="12.8" text-anchor="start" fill="#111" font-weight="bold" textLength="11.04" lengthAdjust="spacingAndGlyphs" >B</text>
<rect x="272.20" y="14.30" width="74.60" height="31.20" fill="#fff" stroke="#666" stroke-width="0.6" />
<text x="273.52" y="23.50" font-size="6.3" text-anchor="start" fill="#2a2a2a" font-weight="normal" textLength="19.86" lengthAdjust="spacingAndGlyphs" >Ex situ</text>
<text x="298.42" y="23.50" font-size="6.3" text-anchor="start" fill="#2a2a2a" font-weight="normal" textLength="17.16" lengthAdjust="spacingAndGlyphs" >In situ</text>
<path d="M323.3,15.6 L321.2,19.9 L323.3,24.2" stroke="#2a2a2a" stroke-width="0.65" fill="none"/>
<path d="M331.2,15.6 L333.3,19.9 L331.2,24.2" stroke="#2a2a2a" stroke-width="0.65" fill="none"/>
<path d="M324.20,18.10 L325.11,17.49 L326.33,20.29 L325.97,22.60 M327.91,17.00 L326.33,20.29" stroke="#2a2a2a" stroke-width="0.70" fill="none" stroke-linejoin="round"/>
<circle cx="325.72" cy="16.09" r="0.4565217391304348" fill="#2a2a2a" stroke="none" stroke-width="0"/>
<text x="327.60" y="24.00" font-size="3.8" text-anchor="start" fill="#2a2a2a" font-weight="normal" >w</text>
<text x="334.6" y="22.4" font-size="6" fill="#2a2a2a" textLength="10.2" lengthAdjust="spacingAndGlyphs">(s<tspan font-size="4" dy="-2">-1</tspan><tspan dy="2">)</tspan></text>
<circle cx="283.90" cy="29.90" r="2.5" fill="#ef7479" stroke="#1f1f1a" stroke-width="0.8"/>
<circle cx="283.90" cy="39.90" r="2.5" fill="#f5c862" stroke="#1f1f1a" stroke-width="0.8"/>
<line x1="301.30" y1="29.70" x2="312.40" y2="29.70" stroke="#3cb4ea" stroke-width="1.6" />
<line x1="301.30" y1="40.10" x2="312.40" y2="40.10" stroke="#e8161c" stroke-width="1.6" />
<text x="320.77" y="32.50" font-size="7.2" text-anchor="start" fill="#2a2a2a" font-weight="normal" textLength="21.96" lengthAdjust="spacingAndGlyphs" >20270</text>
<text x="320.77" y="42.60" font-size="7.2" text-anchor="start" fill="#2a2a2a" font-weight="normal" textLength="21.96" lengthAdjust="spacingAndGlyphs" >32120</text>
<defs><linearGradient id="gC" x1="0" y1="104" x2="0" y2="316" gradientUnits="userSpaceOnUse"><stop offset="0" stop-color="#38b1ea"/><stop offset="0.5" stop-color="#92d3f3"/><stop offset="0.9" stop-color="#eef8fd"/><stop offset="1" stop-color="#ffffff"/></linearGradient></defs>
<polygon points="397.40,316.30 397.40,197.00 399.10,197.00 415.70,104.60 432.30,124.00 465.80,260.90 548.80,279.70 548.80,316.30" fill="url(#gC)" stroke="none"/>
<line x1="415.73" y1="25.60" x2="415.73" y2="316.30" stroke="#e8e8e8" stroke-width="0.7" />
<line x1="448.99" y1="25.60" x2="448.99" y2="316.30" stroke="#e8e8e8" stroke-width="0.7" />
<line x1="482.25" y1="25.60" x2="482.25" y2="316.30" stroke="#e8e8e8" stroke-width="0.7" />
<line x1="515.51" y1="25.60" x2="515.51" y2="316.30" stroke="#e8e8e8" stroke-width="0.7" />
<line x1="548.90" y1="25.60" x2="548.90" y2="316.30" stroke="#e8e8e8" stroke-width="0.7" />
<line x1="397.40" y1="271.50" x2="550.80" y2="271.50" stroke="#e8e8e8" stroke-width="0.7" />
<line x1="397.40" y1="226.70" x2="550.80" y2="226.70" stroke="#e8e8e8" stroke-width="0.7" />
<line x1="397.40" y1="181.90" x2="550.80" y2="181.90" stroke="#e8e8e8" stroke-width="0.7" />
<line x1="397.40" y1="137.10" x2="550.80" y2="137.10" stroke="#e8e8e8" stroke-width="0.7" />
<line x1="397.40" y1="92.30" x2="550.80" y2="92.30" stroke="#e8e8e8" stroke-width="0.7" />
<line x1="397.40" y1="47.50" x2="550.80" y2="47.50" stroke="#e8e8e8" stroke-width="0.7" />
<rect x="397.40" y="25.60" width="153.40" height="290.70" fill="none" stroke="#555555" stroke-width="0.75" />
<line x1="397.40" y1="316.30" x2="397.40" y2="314.60" stroke="#555555" stroke-width="0.6" />
<line x1="397.40" y1="25.60" x2="397.40" y2="27.30" stroke="#555555" stroke-width="0.6" />
<line x1="415.73" y1="316.30" x2="415.73" y2="314.60" stroke="#555555" stroke-width="0.6" />
<line x1="415.73" y1="25.60" x2="415.73" y2="27.30" stroke="#555555" stroke-width="0.6" />
<line x1="448.99" y1="316.30" x2="448.99" y2="314.60" stroke="#555555" stroke-width="0.6" />
<line x1="448.99" y1="25.60" x2="448.99" y2="27.30" stroke="#555555" stroke-width="0.6" />
<line x1="482.25" y1="316.30" x2="482.25" y2="314.60" stroke="#555555" stroke-width="0.6" />
<line x1="482.25" y1="25.60" x2="482.25" y2="27.30" stroke="#555555" stroke-width="0.6" />
<line x1="515.51" y1="316.30" x2="515.51" y2="314.60" stroke="#555555" stroke-width="0.6" />
<line x1="515.51" y1="25.60" x2="515.51" y2="27.30" stroke="#555555" stroke-width="0.6" />
<line x1="548.90" y1="316.30" x2="548.90" y2="314.60" stroke="#555555" stroke-width="0.6" />
<line x1="548.90" y1="25.60" x2="548.90" y2="27.30" stroke="#555555" stroke-width="0.6" />
<line x1="397.40" y1="316.30" x2="399.10" y2="316.30" stroke="#555555" stroke-width="0.6" />
<line x1="397.40" y1="271.50" x2="399.10" y2="271.50" stroke="#555555" stroke-width="0.6" />
<line x1="397.40" y1="226.70" x2="399.10" y2="226.70" stroke="#555555" stroke-width="0.6" />
<line x1="397.40" y1="181.90" x2="399.10" y2="181.90" stroke="#555555" stroke-width="0.6" />
<line x1="397.40" y1="137.10" x2="399.10" y2="137.10" stroke="#555555" stroke-width="0.6" />
<line x1="397.40" y1="92.30" x2="399.10" y2="92.30" stroke="#555555" stroke-width="0.6" />
<line x1="397.40" y1="47.50" x2="399.10" y2="47.50" stroke="#555555" stroke-width="0.6" />
<line x1="550.80" y1="25.60" x2="549.10" y2="25.60" stroke="#555555" stroke-width="0.6" />
<line x1="550.80" y1="85.90" x2="549.10" y2="85.90" stroke="#555555" stroke-width="0.6" />
<line x1="550.80" y1="146.80" x2="549.10" y2="146.80" stroke="#555555" stroke-width="0.6" />
<line x1="550.80" y1="207.50" x2="549.10" y2="207.50" stroke="#555555" stroke-width="0.6" />
<line x1="550.80" y1="268.00" x2="549.10" y2="268.00" stroke="#555555" stroke-width="0.6" />
<polyline points="397.40,232.70 415.70,172.80 417.60,174.60" fill="none" stroke="#333" stroke-width="0.75" stroke-linejoin="round" stroke-linecap="round" stroke-dasharray="2.3,1.9"/>
<polyline points="426.90,183.00 436.70,199.20 458.20,260.00 466.00,282.50" fill="none" stroke="#333" stroke-width="0.75" stroke-linejoin="round" stroke-linecap="round" stroke-dasharray="2.3,1.9"/>
<polyline points="397.40,252.00 415.90,205.00 417.60,206.60" fill="none" stroke="#333" stroke-width="0.75" stroke-linejoin="round" stroke-linecap="round" stroke-dasharray="2.3,1.9"/>
<polyline points="427.10,214.70 449.50,258.00 466.00,306.70" fill="none" stroke="#333" stroke-width="0.75" stroke-linejoin="round" stroke-linecap="round" stroke-dasharray="2.3,1.9"/>
<polyline points="397.40,267.60 415.90,239.50 418.00,241.50" fill="none" stroke="#333" stroke-width="0.75" stroke-linejoin="round" stroke-linecap="round" stroke-dasharray="2.3,1.9"/>
<polyline points="426.00,249.00 441.70,268.70 466.00,315.40" fill="none" stroke="#333" stroke-width="0.75" stroke-linejoin="round" stroke-linecap="round" stroke-dasharray="2.3,1.9"/>
<polyline points="397.40,283.10 415.90,270.20 417.60,271.60" fill="none" stroke="#333" stroke-width="0.75" stroke-linejoin="round" stroke-linecap="round" stroke-dasharray="2.3,1.9"/>
<polyline points="437.70,294.20 460.80,311.00 466.00,315.80" fill="none" stroke="#333" stroke-width="0.75" stroke-linejoin="round" stroke-linecap="round" stroke-dasharray="2.3,1.9"/>
<polyline points="399.10,197.00 415.70,104.60 432.30,124.00 465.80,260.90 548.80,279.70" fill="none" stroke="#333" stroke-width="0.75" stroke-linejoin="round" stroke-linecap="round" />
<polyline points="399.10,89.50 415.70,54.50 432.30,62.80 466.00,143.90 548.80,252.40" fill="none" stroke="#e83a3c" stroke-width="0.85" stroke-linejoin="round" stroke-linecap="round" />
<line x1="399.10" y1="72.70" x2="399.10" y2="106.10" stroke="#e83a3c" stroke-width="0.9" />
<line x1="396.80" y1="72.70" x2="401.40" y2="72.70" stroke="#e83a3c" stroke-width="0.9" />
<line x1="396.80" y1="106.10" x2="401.40" y2="106.10" stroke="#e83a3c" stroke-width="0.9" />
<line x1="415.70" y1="33.30" x2="415.70" y2="76.30" stroke="#e83a3c" stroke-width="0.9" />
<line x1="413.40" y1="33.30" x2="418.00" y2="33.30" stroke="#e83a3c" stroke-width="0.9" />
<line x1="413.40" y1="76.30" x2="418.00" y2="76.30" stroke="#e83a3c" stroke-width="0.9" />
<line x1="432.30" y1="41.20" x2="432.30" y2="84.90" stroke="#e83a3c" stroke-width="0.9" />
<line x1="430.00" y1="41.20" x2="434.60" y2="41.20" stroke="#e83a3c" stroke-width="0.9" />
<line x1="430.00" y1="84.90" x2="434.60" y2="84.90" stroke="#e83a3c" stroke-width="0.9" />
<line x1="466.00" y1="105.80" x2="466.00" y2="181.90" stroke="#e83a3c" stroke-width="0.9" />
<line x1="463.70" y1="105.80" x2="468.30" y2="105.80" stroke="#e83a3c" stroke-width="0.9" />
<line x1="463.70" y1="181.90" x2="468.30" y2="181.90" stroke="#e83a3c" stroke-width="0.9" />
<circle cx="399.10" cy="89.50" r="3.4" fill="#fff" stroke="#e83a3c" stroke-width="1.0"/>
<circle cx="415.70" cy="54.50" r="3.4" fill="#fff" stroke="#e83a3c" stroke-width="1.0"/>
<circle cx="432.30" cy="62.80" r="3.4" fill="#fff" stroke="#e83a3c" stroke-width="1.0"/>
<circle cx="466.00" cy="143.90" r="3.4" fill="#fff" stroke="#e83a3c" stroke-width="1.0"/>
<circle cx="548.80" cy="252.40" r="3.4" fill="#fff" stroke="#e83a3c" stroke-width="1.0"/>
<circle cx="399.10" cy="197.00" r="3.4" fill="#fff" stroke="#222" stroke-width="1.0"/>
<circle cx="415.70" cy="104.60" r="3.4" fill="#fff" stroke="#222" stroke-width="1.0"/>
<circle cx="432.30" cy="124.00" r="3.4" fill="#fff" stroke="#222" stroke-width="1.0"/>
<circle cx="465.80" cy="260.90" r="3.4" fill="#fff" stroke="#222" stroke-width="1.0"/>
<circle cx="548.80" cy="279.70" r="3.4" fill="#fff" stroke="#222" stroke-width="1.0"/>
<text x="391.43" y="328.80" font-size="7.9" text-anchor="start" fill="#3c3c3c" font-weight="normal" textLength="12.85" lengthAdjust="spacingAndGlyphs" >0.1</text>
<text x="408.93" y="328.80" font-size="7.9" text-anchor="start" fill="#3c3c3c" font-weight="normal" textLength="13.55" lengthAdjust="spacingAndGlyphs" >0.2</text>
<text x="442.43" y="328.80" font-size="7.9" text-anchor="start" fill="#3c3c3c" font-weight="normal" textLength="13.45" lengthAdjust="spacingAndGlyphs" >0.4</text>
<text x="475.93" y="328.80" font-size="7.9" text-anchor="start" fill="#3c3c3c" font-weight="normal" textLength="13.55" lengthAdjust="spacingAndGlyphs" >0.6</text>
<text x="509.13" y="328.80" font-size="7.9" text-anchor="start" fill="#3c3c3c" font-weight="normal" textLength="13.45" lengthAdjust="spacingAndGlyphs" >0.8</text>
<text x="546.73" y="328.80" font-size="7.9" text-anchor="start" fill="#3c3c3c" font-weight="normal" textLength="4.05" lengthAdjust="spacingAndGlyphs" >1</text>
<text x="394.50" y="319.20" font-size="8.0" text-anchor="end" fill="#3c3c3c" font-weight="normal" >0</text>
<text x="394.50" y="274.40" font-size="8.0" text-anchor="end" fill="#3c3c3c" font-weight="normal" >1</text>
<text x="394.50" y="229.60" font-size="8.0" text-anchor="end" fill="#3c3c3c" font-weight="normal" >2</text>
<text x="394.50" y="184.80" font-size="8.0" text-anchor="end" fill="#3c3c3c" font-weight="normal" >3</text>
<text x="394.50" y="140.00" font-size="8.0" text-anchor="end" fill="#3c3c3c" font-weight="normal" >4</text>
<text x="394.50" y="95.20" font-size="8.0" text-anchor="end" fill="#3c3c3c" font-weight="normal" >5</text>
<text x="394.50" y="50.40" font-size="8.0" text-anchor="end" fill="#3c3c3c" font-weight="normal" >6</text>
<text x="553.70" y="28.50" font-size="8.0" text-anchor="start" fill="#3c3c3c" font-weight="normal" textLength="4.60" lengthAdjust="spacingAndGlyphs" >3</text>
<text x="553.70" y="88.80" font-size="8.0" text-anchor="start" fill="#3c3c3c" font-weight="normal" textLength="12.40" lengthAdjust="spacingAndGlyphs" >2.5</text>
<text x="553.70" y="149.70" font-size="8.0" text-anchor="start" fill="#3c3c3c" font-weight="normal" textLength="4.60" lengthAdjust="spacingAndGlyphs" >2</text>
<text x="553.70" y="210.40" font-size="8.0" text-anchor="start" fill="#3c3c3c" font-weight="normal" textLength="12.40" lengthAdjust="spacingAndGlyphs" >1.5</text>
<text x="553.70" y="270.90" font-size="8.0" text-anchor="start" fill="#3c3c3c" font-weight="normal" textLength="4.60" lengthAdjust="spacingAndGlyphs" >1</text>
<text x="432.94" y="340.00" font-size="9.3" text-anchor="start" fill="#3c3c3c" font-weight="normal" textLength="82.52" lengthAdjust="spacingAndGlyphs" >IPA volume fraction</text>
<text transform="translate(381.2,171.3) rotate(-90)" font-size="9" text-anchor="middle" fill="#3c3c3c" textLength="34.5" lengthAdjust="spacingAndGlyphs">C<tspan font-size="6" dy="3">g</tspan><tspan dy="-3">  (g/L)</tspan></text>
<text transform="translate(569.0,173.3) rotate(-90)" font-size="7.6" text-anchor="middle" fill="#3c3c3c" dominant-baseline="central" textLength="46.5" lengthAdjust="spacingAndGlyphs">(1-R<tspan font-size="5.2" dy="-2.6">2</tspan><tspan dy="2.6">)/2R</tspan></text>
<text x="398.36" y="22.80" font-size="9.0" text-anchor="start" fill="#3c3c3c" font-weight="normal" textLength="5.78" lengthAdjust="spacingAndGlyphs" >×</text>
<text x="405.68" y="22.80" font-size="8.6" text-anchor="start" fill="#3c3c3c" font-weight="normal" textLength="9.93" lengthAdjust="spacingAndGlyphs" >10</text>
<line x1="415.60" y1="16.30" x2="418.00" y2="16.30" stroke="#3c3c3c" stroke-width="0.6" />
<text x="417.58" y="18.60" font-size="7.0" text-anchor="start" fill="#3c3c3c" font-weight="normal" textLength="3.94" lengthAdjust="spacingAndGlyphs" >3</text>
<text x="372.68" y="13.30" font-size="13.6" text-anchor="start" fill="#111" font-weight="bold" textLength="12.33" lengthAdjust="spacingAndGlyphs" >C</text>
<text x="443.54" y="83.40" font-size="7.6" text-anchor="start" fill="#2a2a2a" font-weight="normal" textLength="31.91" lengthAdjust="spacingAndGlyphs" >180 mins</text>
<text x="470.27" y="295.60" font-size="8.8" text-anchor="start" fill="#4a4a4a" font-weight="normal" textLength="71.06" lengthAdjust="spacingAndGlyphs" >Exfoliation duration</text>
<text transform="translate(428.20,111.20) rotate(45)" font-size="7.3" text-anchor="middle" fill="#222" dominant-baseline="central">180</text>
<text transform="translate(427.20,177.50) rotate(45)" font-size="7.3" text-anchor="middle" fill="#222" dominant-baseline="central">120</text>
<text transform="translate(425.20,207.90) rotate(47)" font-size="7.3" text-anchor="middle" fill="#222" dominant-baseline="central">90</text>
<text transform="translate(425.20,242.00) rotate(47)" font-size="7.3" text-anchor="middle" fill="#222" dominant-baseline="central">60</text>
<text transform="translate(428.60,278.40) rotate(52)" font-size="7.3" text-anchor="middle" fill="#222" dominant-baseline="central" textLength="27.50" lengthAdjust="spacingAndGlyphs">30 mins</text>
<rect x="456.40" y="28.60" width="91.10" height="21.70" fill="#fff" stroke="#666" stroke-width="0.6" />
<line x1="458.10" y1="34.70" x2="479.00" y2="34.70" stroke="#e83a3c" stroke-width="0.85" />
<line x1="468.00" y1="32.10" x2="468.00" y2="38.50" stroke="#e83a3c" stroke-width="0.8" />
<line x1="466.20" y1="32.10" x2="469.80" y2="32.10" stroke="#e83a3c" stroke-width="0.8" />
<line x1="466.20" y1="38.50" x2="469.80" y2="38.50" stroke="#e83a3c" stroke-width="0.8" />
<circle cx="468.00" cy="34.70" r="2.5" fill="#fff" stroke="#e83a3c" stroke-width="0.9"/>
<line x1="458.10" y1="43.70" x2="479.00" y2="43.70" stroke="#333" stroke-width="0.85" />
<circle cx="468.00" cy="43.70" r="2.5" fill="#fff" stroke="#222" stroke-width="0.9"/>
<text x="481.58" y="37.80" font-size="7.0" text-anchor="start" fill="#2a2a2a" font-weight="normal" textLength="32.34" lengthAdjust="spacingAndGlyphs" >Ex situ (C</text>
<text x="513.60" y="39.00" font-size="5.6" text-anchor="start" fill="#2a2a2a" font-weight="normal" >g</text>
<text x="517.00" y="37.80" font-size="7.0" text-anchor="start" fill="#2a2a2a" font-weight="normal" >)</text>
<text x="481.58" y="47.20" font-size="7.0" text-anchor="start" fill="#2a2a2a" font-weight="normal" textLength="65.14" lengthAdjust="spacingAndGlyphs" >In situ (reflectance)</text>
<path d="M24.4,176.2 L104.3,176.2 L104.3,245.7 L81.6,245.7 C62,236 38,230.5 24.4,228.4 Z" fill="#f8f6e2"/>
<path d="M276.6,176.0 L357.1,176.0 L357.1,226.6 C343,228 320,233 299.4,245.7 L276.6,245.7 Z" fill="#f8f6e2"/>
<rect x="81.60" y="245.70" width="22.70" height="76.60" fill="#f8f6e2" stroke="none" stroke-width="0.6" />
<rect x="276.60" y="245.70" width="22.80" height="76.60" fill="#f8f6e2" stroke="none" stroke-width="0.6" />
<line x1="106.57" y1="245.70" x2="106.57" y2="322.30" stroke="#e8e8e8" stroke-width="0.7" />
<line x1="131.55" y1="245.70" x2="131.55" y2="322.30" stroke="#e8e8e8" stroke-width="0.7" />
<line x1="156.52" y1="245.70" x2="156.52" y2="322.30" stroke="#e8e8e8" stroke-width="0.7" />
<line x1="181.50" y1="245.70" x2="181.50" y2="322.30" stroke="#e8e8e8" stroke-width="0.7" />
<line x1="206.47" y1="245.70" x2="206.47" y2="322.30" stroke="#e8e8e8" stroke-width="0.7" />
<line x1="231.45" y1="245.70" x2="231.45" y2="322.30" stroke="#e8e8e8" stroke-width="0.7" />
<line x1="256.42" y1="245.70" x2="256.42" y2="322.30" stroke="#e8e8e8" stroke-width="0.7" />
<line x1="281.40" y1="245.70" x2="281.40" y2="322.30" stroke="#e8e8e8" stroke-width="0.7" />
<line x1="81.60" y1="303.15" x2="299.40" y2="303.15" stroke="#e8e8e8" stroke-width="0.7" />
<line x1="81.60" y1="284.00" x2="299.40" y2="284.00" stroke="#e8e8e8" stroke-width="0.7" />
<line x1="81.60" y1="264.85" x2="299.40" y2="264.85" stroke="#e8e8e8" stroke-width="0.7" />
<rect x="81.60" y="245.70" width="217.80" height="76.60" fill="none" stroke="#555555" stroke-width="0.75" />
<line x1="81.60" y1="322.30" x2="81.60" y2="320.60" stroke="#555555" stroke-width="0.6" />
<line x1="81.60" y1="245.70" x2="81.60" y2="247.40" stroke="#555555" stroke-width="0.6" />
<line x1="106.57" y1="322.30" x2="106.57" y2="320.60" stroke="#555555" stroke-width="0.6" />
<line x1="106.57" y1="245.70" x2="106.57" y2="247.40" stroke="#555555" stroke-width="0.6" />
<line x1="131.55" y1="322.30" x2="131.55" y2="320.60" stroke="#555555" stroke-width="0.6" />
<line x1="131.55" y1="245.70" x2="131.55" y2="247.40" stroke="#555555" stroke-width="0.6" />
<line x1="156.52" y1="322.30" x2="156.52" y2="320.60" stroke="#555555" stroke-width="0.6" />
<line x1="156.52" y1="245.70" x2="156.52" y2="247.40" stroke="#555555" stroke-width="0.6" />
<line x1="181.50" y1="322.30" x2="181.50" y2="320.60" stroke="#555555" stroke-width="0.6" />
<line x1="181.50" y1="245.70" x2="181.50" y2="247.40" stroke="#555555" stroke-width="0.6" />
<line x1="206.47" y1="322.30" x2="206.47" y2="320.60" stroke="#555555" stroke-width="0.6" />
<line x1="206.47" y1="245.70" x2="206.47" y2="247.40" stroke="#555555" stroke-width="0.6" />
<line x1="231.45" y1="322.30" x2="231.45" y2="320.60" stroke="#555555" stroke-width="0.6" />
<line x1="231.45" y1="245.70" x2="231.45" y2="247.40" stroke="#555555" stroke-width="0.6" />
<line x1="256.42" y1="322.30" x2="256.42" y2="320.60" stroke="#555555" stroke-width="0.6" />
<line x1="256.42" y1="245.70" x2="256.42" y2="247.40" stroke="#555555" stroke-width="0.6" />
<line x1="281.40" y1="322.30" x2="281.40" y2="320.60" stroke="#555555" stroke-width="0.6" />
<line x1="281.40" y1="245.70" x2="281.40" y2="247.40" stroke="#555555" stroke-width="0.6" />
<line x1="81.60" y1="322.30" x2="83.30" y2="322.30" stroke="#555555" stroke-width="0.6" />
<line x1="299.40" y1="322.30" x2="297.70" y2="322.30" stroke="#555555" stroke-width="0.6" />
<line x1="81.60" y1="303.15" x2="83.30" y2="303.15" stroke="#555555" stroke-width="0.6" />
<line x1="299.40" y1="303.15" x2="297.70" y2="303.15" stroke="#555555" stroke-width="0.6" />
<line x1="81.60" y1="284.00" x2="83.30" y2="284.00" stroke="#555555" stroke-width="0.6" />
<line x1="299.40" y1="284.00" x2="297.70" y2="284.00" stroke="#555555" stroke-width="0.6" />
<line x1="81.60" y1="264.85" x2="83.30" y2="264.85" stroke="#555555" stroke-width="0.6" />
<line x1="299.40" y1="264.85" x2="297.70" y2="264.85" stroke="#555555" stroke-width="0.6" />
<line x1="81.60" y1="245.70" x2="83.30" y2="245.70" stroke="#555555" stroke-width="0.6" />
<line x1="299.40" y1="245.70" x2="297.70" y2="245.70" stroke="#555555" stroke-width="0.6" />
<polyline points="81.80,265.41 82.13,265.86 82.45,265.05 82.78,265.64 83.10,266.59 83.43,266.70 83.76,265.11 84.08,265.40 84.41,265.16 84.73,266.12 85.06,265.32 85.39,266.37 85.71,266.90 86.04,266.19 86.37,267.17 86.69,267.09 87.02,265.95 87.34,267.23 87.67,266.67 88.00,267.12 88.32,266.94 88.65,267.95 88.97,267.50 89.30,266.98 89.63,267.94 89.95,268.56 90.28,267.62 90.60,267.54 90.93,268.02 91.26,269.33 91.58,269.52 91.91,268.96 92.23,269.57 92.56,269.55 92.89,268.63 93.21,268.11 93.54,269.45 93.87,269.34 94.19,269.02 94.52,268.82 94.84,269.33 95.17,269.57 95.50,269.24 95.82,269.39 96.15,269.86 96.47,270.85 96.80,270.36 97.13,269.80 97.45,269.89 97.78,270.38 98.10,269.94 98.43,270.04 98.76,270.83 99.08,270.00 99.41,270.98 99.73,270.82 100.06,271.68 100.39,271.87 100.71,271.86 101.04,271.96 101.37,271.37 101.69,272.12 102.02,271.51 102.34,272.13 102.67,271.69 103.00,272.06 103.32,271.32 103.65,271.82 103.97,273.53 104.30,272.01" fill="none" stroke="#dc1489" stroke-width="2.6" stroke-linejoin="round" stroke-linecap="round" />
<polyline points="104.60,272.40 105.20,257.20" fill="none" stroke="#dc1489" stroke-width="2.0" stroke-linejoin="round" stroke-linecap="round" />
<polyline points="105.20,257.58 105.71,257.85 106.21,258.35 106.72,258.19 107.22,258.78 107.73,258.06 108.23,258.41 108.74,258.99 109.24,259.23 109.75,259.45 110.26,259.84 110.76,261.01 111.27,260.59 111.77,262.43 112.28,262.20 112.78,262.23 113.29,262.86 113.80,262.27 114.30,263.89 114.81,264.01 115.31,264.07 115.82,263.86 116.32,264.86 116.83,264.94 117.33,265.05 117.84,265.83 118.35,265.53 118.85,265.26 119.36,265.90 119.86,265.45 120.37,265.70 120.87,267.03 121.38,267.40 121.88,268.02 122.39,268.03 122.90,267.66 123.40,267.00 123.91,268.03 124.41,269.15 124.92,269.10 125.42,268.73 125.93,268.90 126.44,268.65 126.94,268.79 127.45,268.80 127.95,270.65 128.46,270.36 128.96,269.57 129.47,270.32 129.97,269.79 130.48,270.31 130.99,271.55 131.49,271.59 132.00,271.44 132.50,271.23 133.01,272.17 133.51,272.97 134.02,272.11 134.53,271.56 135.03,271.71 135.54,271.94 136.04,273.87 136.55,273.20 137.05,273.96 137.56,272.79 138.06,273.13 138.57,274.15 139.08,274.72 139.58,273.76 140.09,273.35 140.59,275.10 141.10,274.10 141.60,275.14 142.11,274.12 142.61,275.33 143.12,275.77 143.63,275.68 144.13,275.08 144.64,275.95 145.14,274.91 145.65,275.39 146.15,275.73 146.66,276.78 147.17,275.46 147.67,277.04 148.18,277.01 148.68,277.48 149.19,276.39 149.69,276.19 150.20,276.38 150.70,277.68 151.21,278.07 151.72,277.65 152.22,277.34 152.73,277.06 153.23,278.27 153.74,278.46 154.24,277.01 154.75,277.37 155.25,278.71 155.76,278.85 156.27,277.89 156.77,277.92 157.28,278.33 157.78,278.65 158.29,277.86 158.79,279.44 159.30,278.94 159.81,279.51 160.31,278.52 160.82,280.08 161.32,279.75 161.83,279.02 162.33,280.32 162.84,279.91 163.34,280.28 163.85,278.77 164.36,278.88 164.86,280.33 165.37,279.54 165.87,280.04 166.38,279.40 166.88,281.12 167.39,280.24 167.89,280.97 168.40,279.54 168.91,280.42 169.41,279.67 169.92,281.38 170.42,280.58 170.93,279.90 171.43,279.99 171.94,280.99 172.45,280.14 172.95,280.43 173.46,281.01 173.96,281.21 174.47,281.45 174.97,281.60 175.48,281.18 175.98,281.75 176.49,280.91 177.00,281.23 177.50,282.35 178.01,281.14 178.51,281.37 179.02,281.49 179.52,282.05 180.03,281.17 180.54,281.32 181.04,282.27 181.55,281.76 182.05,282.88 182.56,283.20 183.06,282.85 183.57,283.17 184.07,282.65 184.58,282.05 185.09,282.92 185.59,282.88 186.10,283.42 186.60,282.58 187.11,282.86 187.61,284.13 188.12,283.12 188.62,283.50 189.13,284.64 189.64,283.41 190.14,283.25 190.65,284.45 191.15,284.28 191.66,284.46 192.16,283.41 192.67,284.26 193.18,283.54 193.68,284.12 194.19,285.14 194.69,283.96 195.20,284.54 195.70,286.03 196.21,286.11 196.71,285.24 197.22,285.86 197.73,285.77 198.23,285.55 198.74,286.45 199.24,285.19 199.75,286.62 200.25,285.16 200.76,286.92 201.26,286.65 201.77,286.31 202.28,286.87 202.78,286.56 203.29,287.30 203.79,286.08 204.30,286.97 204.80,287.80 205.31,288.01 205.82,286.69 206.32,286.85 206.83,288.24 207.33,287.22 207.84,286.72 208.34,288.12 208.85,287.60 209.35,288.31 209.86,287.86 210.37,287.97 210.87,287.87 211.38,287.67 211.88,288.95 212.39,288.54 212.89,288.84 213.40,289.10 213.91,287.87 214.41,289.26 214.92,289.19 215.42,288.53 215.93,288.70 216.43,287.84 216.94,289.19 217.44,288.05 217.95,288.82 218.46,288.05 218.96,287.99 219.47,289.10 219.97,288.91 220.48,289.32 220.98,289.59 221.49,290.02 221.99,288.26 222.50,289.39 223.01,289.32 223.51,289.51 224.02,289.33 224.52,289.39 225.03,290.05 225.53,289.26 226.04,289.46 226.55,289.81 227.05,288.64 227.56,289.36 228.06,288.73 228.57,288.84 229.07,288.60 229.58,289.05 230.08,289.10 230.59,289.73 231.10,289.87 231.60,290.41 232.11,289.77 232.61,290.62 233.12,289.66 233.62,290.39 234.13,290.04 234.63,290.21 235.14,289.54 235.65,290.91 236.15,290.61 236.66,289.39 237.16,290.21 237.67,291.16 238.17,289.31 238.68,289.85 239.19,290.76 239.69,289.39 240.20,290.84 240.70,290.53 241.21,290.89 241.71,290.56 242.22,291.38 242.72,290.23 243.23,290.73 243.74,289.72 244.24,290.76 244.75,290.53 245.25,291.70 245.76,291.66 246.26,290.08 246.77,289.92 247.27,290.12 247.78,290.29 248.29,291.40 248.79,291.06 249.30,291.08 249.80,290.97 250.31,290.09 250.81,290.89 251.32,292.13 251.83,291.81 252.33,291.34 252.84,290.62 253.34,292.10 253.85,291.14 254.35,291.56 254.86,290.76 255.36,291.04 255.87,291.10 256.38,291.23 256.88,290.52 257.39,291.83 257.89,290.88 258.40,291.78 258.90,291.84 259.41,292.03 259.92,291.25 260.42,291.29 260.93,292.25 261.43,291.55 261.94,291.12 262.44,292.66 262.95,290.91 263.45,292.70 263.96,291.55 264.47,291.77 264.97,293.01 265.48,291.96 265.98,292.57 266.49,292.00 266.99,293.05 267.50,292.71 268.00,292.28 268.51,291.54 269.02,292.15 269.52,292.46 270.03,292.10 270.53,292.66 271.04,292.06 271.54,292.69 272.05,292.82 272.56,293.17 273.06,293.38 273.57,293.42 274.07,292.87 274.58,293.03 275.08,293.97 275.59,293.08 276.09,293.95 276.60,294.59" fill="none" stroke="#dc1489" stroke-width="2.2" stroke-linejoin="round" stroke-linecap="round" />
<polyline points="276.80,294.56 277.31,295.00 277.82,295.61 278.33,297.15 278.84,298.09 279.35,298.53 279.85,298.90 280.36,299.78 280.87,299.74 281.38,300.68 281.89,300.90 282.40,302.21 282.91,303.00 283.42,301.71 283.93,301.63 284.44,303.05 284.95,302.48 285.45,302.88 285.96,302.18 286.47,302.49 286.98,303.51 287.49,303.42 288.00,303.93 288.51,304.17 289.02,303.12 289.53,303.61 290.04,303.31 290.55,303.41 291.05,303.20 291.56,304.25 292.07,303.60 292.58,302.72 293.09,303.71 293.60,304.17 294.11,304.01 294.62,303.37 295.13,302.35 295.64,303.73 296.15,303.90 296.65,303.48 297.16,302.86 297.67,302.69 298.18,303.26 298.69,302.01 299.20,303.11" fill="none" stroke="#dc1489" stroke-width="2.2" stroke-linejoin="round" stroke-linecap="round" />
<circle cx="81.50" cy="262.80" r="2.7" fill="#5ecdf0" stroke="#1d3540" stroke-width="0.85"/>
<circle cx="91.40" cy="259.70" r="2.7" fill="#5ecdf0" stroke="#1d3540" stroke-width="0.85"/>
<circle cx="101.40" cy="259.80" r="2.7" fill="#5ecdf0" stroke="#1d3540" stroke-width="0.85"/>
<circle cx="116.40" cy="266.00" r="2.7" fill="#5ecdf0" stroke="#1d3540" stroke-width="0.85"/>
<circle cx="129.00" cy="272.90" r="2.7" fill="#5ecdf0" stroke="#1d3540" stroke-width="0.85"/>
<circle cx="153.50" cy="279.80" r="2.7" fill="#5ecdf0" stroke="#1d3540" stroke-width="0.85"/>
<circle cx="178.80" cy="279.80" r="2.7" fill="#5ecdf0" stroke="#1d3540" stroke-width="0.85"/>
<circle cx="210.90" cy="288.40" r="2.7" fill="#5ecdf0" stroke="#1d3540" stroke-width="0.85"/>
<circle cx="243.70" cy="287.90" r="2.7" fill="#5ecdf0" stroke="#1d3540" stroke-width="0.85"/>
<circle cx="273.90" cy="295.20" r="2.7" fill="#5ecdf0" stroke="#1d3540" stroke-width="0.85"/>
<line x1="104.30" y1="245.70" x2="104.30" y2="322.30" stroke="#333" stroke-width="0.85" />
<line x1="276.90" y1="245.70" x2="276.90" y2="322.30" stroke="#8a8a8a" stroke-width="0.9" />
<text x="79.16" y="333.90" font-size="7.4" text-anchor="start" fill="#3c3c3c" font-weight="normal" textLength="4.49" lengthAdjust="spacingAndGlyphs" >0</text>
<text x="101.56" y="333.90" font-size="7.4" text-anchor="start" fill="#3c3c3c" font-weight="normal" textLength="9.89" lengthAdjust="spacingAndGlyphs" >50</text>
<text x="125.16" y="333.90" font-size="7.4" text-anchor="start" fill="#3c3c3c" font-weight="normal" textLength="13.79" lengthAdjust="spacingAndGlyphs" >100</text>
<text x="150.16" y="333.90" font-size="7.4" text-anchor="start" fill="#3c3c3c" font-weight="normal" textLength="13.39" lengthAdjust="spacingAndGlyphs" >150</text>
<text x="181.50" y="333.90" font-size="7.4" text-anchor="middle" fill="#3c3c3c" font-weight="normal" >200</text>
<text x="206.47" y="333.90" font-size="7.4" text-anchor="middle" fill="#3c3c3c" font-weight="normal" >250</text>
<text x="231.45" y="333.90" font-size="7.4" text-anchor="middle" fill="#3c3c3c" font-weight="normal" >300</text>
<text x="256.42" y="333.90" font-size="7.4" text-anchor="middle" fill="#3c3c3c" font-weight="normal" >350</text>
<text x="281.40" y="333.90" font-size="7.4" text-anchor="middle" fill="#3c3c3c" font-weight="normal" >400</text>
<text x="78.30" y="324.90" font-size="7.4" text-anchor="end" fill="#3c3c3c" font-weight="normal" >6</text>
<text x="78.30" y="305.75" font-size="7.4" text-anchor="end" fill="#3c3c3c" font-weight="normal" >7</text>
<text x="78.30" y="286.60" font-size="7.4" text-anchor="end" fill="#3c3c3c" font-weight="normal" >8</text>
<text x="78.30" y="267.45" font-size="7.4" text-anchor="end" fill="#3c3c3c" font-weight="normal" >9</text>
<text x="78.30" y="248.30" font-size="7.4" text-anchor="end" fill="#3c3c3c" font-weight="normal" >10</text>
<text x="170.60" y="343.60" font-size="8.3" text-anchor="start" fill="#3c3c3c" font-weight="normal" textLength="40.70" lengthAdjust="spacingAndGlyphs" >time (min)</text>
<text transform="translate(61.5,284.3) rotate(-90)" font-size="7.5" text-anchor="middle" dominant-baseline="central" fill="#3c3c3c">⟨N⟩</text>
<rect x="109.50" y="294.30" width="43.10" height="17.70" fill="#fff" stroke="#666" stroke-width="0.6" />
<circle cx="117.90" cy="299.10" r="2.6" fill="#5ecdf0" stroke="#1d3540" stroke-width="0.85"/>
<line x1="112.40" y1="307.40" x2="123.90" y2="307.40" stroke="#dc1489" stroke-width="1.7" />
<text x="128.48" y="302.00" font-size="7.0" text-anchor="start" fill="#2a2a2a" font-weight="normal" textLength="21.14" lengthAdjust="spacingAndGlyphs" >Ex situ</text>
<text x="128.48" y="309.60" font-size="7.0" text-anchor="start" fill="#2a2a2a" font-weight="normal" textLength="19.04" lengthAdjust="spacingAndGlyphs" >In situ</text>
<line x1="104.20" y1="176.20" x2="104.20" y2="206.20" stroke="#555" stroke-width="0.75" stroke-dasharray="2.6,1.6"/>
<line x1="104.20" y1="206.20" x2="104.20" y2="245.70" stroke="#555" stroke-width="0.8" />
<line x1="277.40" y1="176.00" x2="277.40" y2="206.20" stroke="#555" stroke-width="0.75" stroke-dasharray="2.6,1.6"/>
<line x1="277.40" y1="206.20" x2="277.40" y2="245.70" stroke="#555" stroke-width="0.8" />
<line x1="106.00" y1="234.40" x2="276.00" y2="234.40" stroke="#111" stroke-width="1.1" />
<path d="M104.80,234.40 L108.80,232.10 L107.68,234.40 L108.80,236.70 Z" fill="#111" stroke="#111" stroke-width="0.3"/>
<path d="M277.00,234.40 L273.00,232.10 L274.12,234.40 L273.00,236.70 Z" fill="#111" stroke="#111" stroke-width="0.3"/>
<line x1="83.50" y1="249.90" x2="102.50" y2="249.90" stroke="#111" stroke-width="1.1" />
<path d="M82.30,249.90 L86.30,247.60 L85.18,249.90 L86.30,252.20 Z" fill="#111" stroke="#111" stroke-width="0.3"/>
<path d="M103.70,249.90 L99.70,247.60 L100.82,249.90 L99.70,252.20 Z" fill="#111" stroke="#111" stroke-width="0.3"/>
<line x1="278.60" y1="249.90" x2="297.60" y2="249.90" stroke="#111" stroke-width="1.1" />
<path d="M277.40,249.90 L281.40,247.60 L280.28,249.90 L281.40,252.20 Z" fill="#111" stroke="#111" stroke-width="0.3"/>
<path d="M298.80,249.90 L294.80,247.60 L295.92,249.90 L294.80,252.20 Z" fill="#111" stroke="#111" stroke-width="0.3"/>
<line x1="303.30" y1="261.00" x2="349.20" y2="261.00" stroke="#222" stroke-width="0.75" />
<line x1="303.30" y1="296.20" x2="349.20" y2="296.20" stroke="#222" stroke-width="0.75" />
<line x1="310.30" y1="262.00" x2="310.30" y2="295.60" stroke="#222" stroke-width="0.7" />
<path d="M310.3,261.6 L308.9,264.6 L311.7,264.6 Z M310.3,295.9 L308.9,292.9 L311.7,292.9 Z" fill="#222"/>
<text x="312.95" y="282.00" font-size="9.2" text-anchor="start" fill="#2a2a2a" font-weight="normal" textLength="36.80" lengthAdjust="spacingAndGlyphs" >ΔN = −2</text>
<text x="1.43" y="195.30" font-size="12.8" text-anchor="start" fill="#111" font-weight="bold" textLength="11.24" lengthAdjust="spacingAndGlyphs" >D</text>
<path d="M30.00,215.60 L31.50,214.60 L33.50,219.20 L32.90,223.00 M36.10,213.80 L33.50,219.20" stroke="#222" stroke-width="0.95" fill="none" stroke-linejoin="round"/>
<circle cx="32.50" cy="212.30" r="0.75" fill="#222" stroke="none" stroke-width="0"/>
<text x="35.12" y="224.70" font-size="8.0" text-anchor="start" fill="#222" font-weight="normal" textLength="14.56" lengthAdjust="spacingAndGlyphs" >max</text>
<text x="52.98" y="222.90" font-size="8.6" text-anchor="start" fill="#222" font-weight="normal" textLength="6.63" lengthAdjust="spacingAndGlyphs" >&lt;</text>
<text x="60.79" y="223.40" font-size="10.2" text-anchor="start" fill="#222" font-weight="normal" textLength="20.42" lengthAdjust="spacingAndGlyphs" >0.99</text>
<path d="M82.20,215.60 L83.70,214.60 L85.70,219.20 L85.10,223.00 M88.30,213.80 L85.70,219.20" stroke="#222" stroke-width="0.95" fill="none" stroke-linejoin="round"/>
<circle cx="84.70" cy="212.30" r="0.75" fill="#222" stroke="none" stroke-width="0"/>
<text x="88.22" y="224.70" font-size="8.0" text-anchor="start" fill="#222" font-weight="normal" textLength="10.26" lengthAdjust="spacingAndGlyphs" >crit</text>
<path d="M282.00,215.60 L283.50,214.60 L285.50,219.20 L284.90,223.00 M288.10,213.80 L285.50,219.20" stroke="#222" stroke-width="0.95" fill="none" stroke-linejoin="round"/>
<circle cx="284.50" cy="212.30" r="0.75" fill="#222" stroke="none" stroke-width="0"/>
<text x="287.12" y="224.70" font-size="8.0" text-anchor="start" fill="#222" font-weight="normal" textLength="14.56" lengthAdjust="spacingAndGlyphs" >max</text>
<text x="304.98" y="222.90" font-size="8.6" text-anchor="start" fill="#222" font-weight="normal" textLength="6.63" lengthAdjust="spacingAndGlyphs" >&lt;</text>
<text x="312.79" y="223.40" font-size="10.2" text-anchor="start" fill="#222" font-weight="normal" textLength="20.42" lengthAdjust="spacingAndGlyphs" >0.99</text>
<path d="M334.20,215.60 L335.70,214.60 L337.70,219.20 L337.10,223.00 M340.30,213.80 L337.70,219.20" stroke="#222" stroke-width="0.95" fill="none" stroke-linejoin="round"/>
<circle cx="336.70" cy="212.30" r="0.75" fill="#222" stroke="none" stroke-width="0"/>
<text x="340.22" y="224.70" font-size="8.0" text-anchor="start" fill="#222" font-weight="normal" textLength="10.26" lengthAdjust="spacingAndGlyphs" >crit</text>
<path d="M164.00,215.68 L165.57,214.63 L167.65,219.43 L167.03,223.40 M170.37,213.80 L167.65,219.43" stroke="#222" stroke-width="0.99" fill="none" stroke-linejoin="round"/>
<circle cx="166.61" cy="212.23" r="0.7826086956521738" fill="#222" stroke="none" stroke-width="0"/>
<text x="169.62" y="224.50" font-size="6.4" text-anchor="start" fill="#222" font-weight="normal" textLength="13.57" lengthAdjust="spacingAndGlyphs" >95%</text>
<text x="187.18" y="222.90" font-size="8.6" text-anchor="start" fill="#222" font-weight="normal" textLength="6.63" lengthAdjust="spacingAndGlyphs" >&gt;</text>
<text x="198.59" y="223.40" font-size="10.2" text-anchor="start" fill="#222" font-weight="normal" textLength="6.82" lengthAdjust="spacingAndGlyphs" >2</text>
<path d="M205.80,215.68 L207.37,214.63 L209.45,219.43 L208.83,223.40 M212.17,213.80 L209.45,219.43" stroke="#222" stroke-width="0.99" fill="none" stroke-linejoin="round"/>
<circle cx="208.41" cy="212.23" r="0.7826086956521738" fill="#222" stroke="none" stroke-width="0"/>
<text x="211.58" y="224.50" font-size="7.0" text-anchor="start" fill="#222" font-weight="normal" textLength="9.94" lengthAdjust="spacingAndGlyphs" >crit</text>
<line x1="130.90" y1="197.20" x2="159.78" y2="197.20" stroke="#505050" stroke-width="1.7" />
<circle cx="130.90" cy="197.20" r="1.45" fill="#505050" stroke="none" stroke-width="0"/>
<circle cx="138.12" cy="197.20" r="1.45" fill="#505050" stroke="none" stroke-width="0"/>
<circle cx="145.34" cy="197.20" r="1.45" fill="#505050" stroke="none" stroke-width="0"/>
<circle cx="152.56" cy="197.20" r="1.45" fill="#505050" stroke="none" stroke-width="0"/>
<circle cx="159.78" cy="197.20" r="1.45" fill="#505050" stroke="none" stroke-width="0"/>
<line x1="124.10" y1="201.20" x2="152.98" y2="201.20" stroke="#505050" stroke-width="1.7" />
<circle cx="124.10" cy="201.20" r="1.45" fill="#505050" stroke="none" stroke-width="0"/>
<circle cx="131.32" cy="201.20" r="1.45" fill="#505050" stroke="none" stroke-width="0"/>
<circle cx="138.54" cy="201.20" r="1.45" fill="#505050" stroke="none" stroke-width="0"/>
<circle cx="145.76" cy="201.20" r="1.45" fill="#505050" stroke="none" stroke-width="0"/>
<circle cx="152.98" cy="201.20" r="1.45" fill="#505050" stroke="none" stroke-width="0"/>
<line x1="124.10" y1="205.30" x2="152.98" y2="205.30" stroke="#505050" stroke-width="1.7" />
<circle cx="124.10" cy="205.30" r="1.45" fill="#505050" stroke="none" stroke-width="0"/>
<circle cx="131.32" cy="205.30" r="1.45" fill="#505050" stroke="none" stroke-width="0"/>
<circle cx="138.54" cy="205.30" r="1.45" fill="#505050" stroke="none" stroke-width="0"/>
<circle cx="145.76" cy="205.30" r="1.45" fill="#505050" stroke="none" stroke-width="0"/>
<circle cx="152.98" cy="205.30" r="1.45" fill="#505050" stroke="none" stroke-width="0"/>
<line x1="123.30" y1="201.20" x2="119.00" y2="201.20" stroke="#d43aae" stroke-width="1.0" />
<path d="M117.00,201.20 L120.40,199.50 L120.40,202.90 Z" fill="#d43aae"/>
<line x1="161.40" y1="197.20" x2="165.70" y2="197.20" stroke="#d43aae" stroke-width="1.0" />
<path d="M167.70,197.20 L164.30,195.50 L164.30,198.90 Z" fill="#d43aae"/>
<line x1="56.90" y1="196.65" x2="85.58" y2="196.65" stroke="#505050" stroke-width="1.7" />
<circle cx="56.90" cy="196.65" r="1.45" fill="#505050" stroke="none" stroke-width="0"/>
<circle cx="64.07" cy="196.65" r="1.45" fill="#505050" stroke="none" stroke-width="0"/>
<circle cx="71.24" cy="196.65" r="1.45" fill="#505050" stroke="none" stroke-width="0"/>
<circle cx="78.41" cy="196.65" r="1.45" fill="#505050" stroke="none" stroke-width="0"/>
<circle cx="85.58" cy="196.65" r="1.45" fill="#505050" stroke="none" stroke-width="0"/>
<line x1="56.90" y1="200.95" x2="85.58" y2="200.95" stroke="#505050" stroke-width="1.7" />
<circle cx="56.90" cy="200.95" r="1.45" fill="#505050" stroke="none" stroke-width="0"/>
<circle cx="64.07" cy="200.95" r="1.45" fill="#505050" stroke="none" stroke-width="0"/>
<circle cx="71.24" cy="200.95" r="1.45" fill="#505050" stroke="none" stroke-width="0"/>
<circle cx="78.41" cy="200.95" r="1.45" fill="#505050" stroke="none" stroke-width="0"/>
<circle cx="85.58" cy="200.95" r="1.45" fill="#505050" stroke="none" stroke-width="0"/>
<line x1="56.90" y1="205.25" x2="85.58" y2="205.25" stroke="#505050" stroke-width="1.7" />
<circle cx="56.90" cy="205.25" r="1.45" fill="#505050" stroke="none" stroke-width="0"/>
<circle cx="64.07" cy="205.25" r="1.45" fill="#505050" stroke="none" stroke-width="0"/>
<circle cx="71.24" cy="205.25" r="1.45" fill="#505050" stroke="none" stroke-width="0"/>
<circle cx="78.41" cy="205.25" r="1.45" fill="#505050" stroke="none" stroke-width="0"/>
<circle cx="85.58" cy="205.25" r="1.45" fill="#505050" stroke="none" stroke-width="0"/>
<line x1="297.70" y1="196.40" x2="326.18" y2="196.40" stroke="#505050" stroke-width="1.7" />
<circle cx="297.70" cy="196.40" r="1.45" fill="#505050" stroke="none" stroke-width="0"/>
<circle cx="304.82" cy="196.40" r="1.45" fill="#505050" stroke="none" stroke-width="0"/>
<circle cx="311.94" cy="196.40" r="1.45" fill="#505050" stroke="none" stroke-width="0"/>
<circle cx="319.06" cy="196.40" r="1.45" fill="#505050" stroke="none" stroke-width="0"/>
<circle cx="326.18" cy="196.40" r="1.45" fill="#505050" stroke="none" stroke-width="0"/>
<line x1="297.70" y1="200.85" x2="326.18" y2="200.85" stroke="#505050" stroke-width="1.7" />
<circle cx="297.70" cy="200.85" r="1.45" fill="#505050" stroke="none" stroke-width="0"/>
<circle cx="304.82" cy="200.85" r="1.45" fill="#505050" stroke="none" stroke-width="0"/>
<circle cx="311.94" cy="200.85" r="1.45" fill="#505050" stroke="none" stroke-width="0"/>
<circle cx="319.06" cy="200.85" r="1.45" fill="#505050" stroke="none" stroke-width="0"/>
<circle cx="326.18" cy="200.85" r="1.45" fill="#505050" stroke="none" stroke-width="0"/>
<line x1="297.70" y1="205.30" x2="326.18" y2="205.30" stroke="#505050" stroke-width="1.7" />
<circle cx="297.70" cy="205.30" r="1.45" fill="#505050" stroke="none" stroke-width="0"/>
<circle cx="304.82" cy="205.30" r="1.45" fill="#505050" stroke="none" stroke-width="0"/>
<circle cx="311.94" cy="205.30" r="1.45" fill="#505050" stroke="none" stroke-width="0"/>
<circle cx="319.06" cy="205.30" r="1.45" fill="#505050" stroke="none" stroke-width="0"/>
<circle cx="326.18" cy="205.30" r="1.45" fill="#505050" stroke="none" stroke-width="0"/>
<line x1="223.60" y1="202.10" x2="252.60" y2="202.10" stroke="#505050" stroke-width="1.7" />
<circle cx="223.60" cy="202.10" r="1.45" fill="#505050" stroke="none" stroke-width="0"/>
<circle cx="230.85" cy="202.10" r="1.45" fill="#505050" stroke="none" stroke-width="0"/>
<circle cx="238.10" cy="202.10" r="1.45" fill="#505050" stroke="none" stroke-width="0"/>
<circle cx="245.35" cy="202.10" r="1.45" fill="#505050" stroke="none" stroke-width="0"/>
<circle cx="252.60" cy="202.10" r="1.45" fill="#505050" stroke="none" stroke-width="0"/>
<line x1="223.60" y1="205.60" x2="252.60" y2="205.60" stroke="#505050" stroke-width="1.7" />
<circle cx="223.60" cy="205.60" r="1.45" fill="#505050" stroke="none" stroke-width="0"/>
<circle cx="230.85" cy="205.60" r="1.45" fill="#505050" stroke="none" stroke-width="0"/>
<circle cx="238.10" cy="205.60" r="1.45" fill="#505050" stroke="none" stroke-width="0"/>
<circle cx="245.35" cy="205.60" r="1.45" fill="#505050" stroke="none" stroke-width="0"/>
<circle cx="252.60" cy="205.60" r="1.45" fill="#505050" stroke="none" stroke-width="0"/>
<path d="M253.3,198.6 L238,198.5 L231.9,196.8 C227,195 225,192 224.8,188 C224.8,182.5 229,180.2 232.5,180.4 C237,180.8 239.8,184.5 239.3,188.8 C238.8,192.5 235.5,194 232.8,193.2 C229.8,192.3 229,189 230.3,186.8 C231.5,185 234,184.8 235.5,186.8" fill="none" stroke="#505050" stroke-width="1.4"/>
<circle cx="238.80" cy="198.50" r="1.15" fill="#505050" stroke="none" stroke-width="0"/>
<circle cx="245.80" cy="198.60" r="1.15" fill="#505050" stroke="none" stroke-width="0"/>
<circle cx="252.90" cy="198.60" r="1.15" fill="#505050" stroke="none" stroke-width="0"/>
<circle cx="231.90" cy="196.80" r="1.15" fill="#505050" stroke="none" stroke-width="0"/>
<circle cx="225.60" cy="192.30" r="1.15" fill="#505050" stroke="none" stroke-width="0"/>
<circle cx="225.20" cy="185.00" r="1.15" fill="#505050" stroke="none" stroke-width="0"/>
<circle cx="231.50" cy="180.50" r="1.15" fill="#505050" stroke="none" stroke-width="0"/>
<circle cx="238.30" cy="183.50" r="1.15" fill="#505050" stroke="none" stroke-width="0"/>
<circle cx="239.20" cy="190.30" r="1.15" fill="#505050" stroke="none" stroke-width="0"/>
<circle cx="232.80" cy="193.20" r="1.15" fill="#505050" stroke="none" stroke-width="0"/>
<circle cx="230.30" cy="186.80" r="1.15" fill="#505050" stroke="none" stroke-width="0"/>
<line x1="222.10" y1="188.30" x2="219.20" y2="188.30" stroke="#d43aae" stroke-width="1.0" />
<path d="M217.20,188.30 L220.60,186.60 L220.60,190.00 Z" fill="#d43aae"/>
</svg></body></html>
